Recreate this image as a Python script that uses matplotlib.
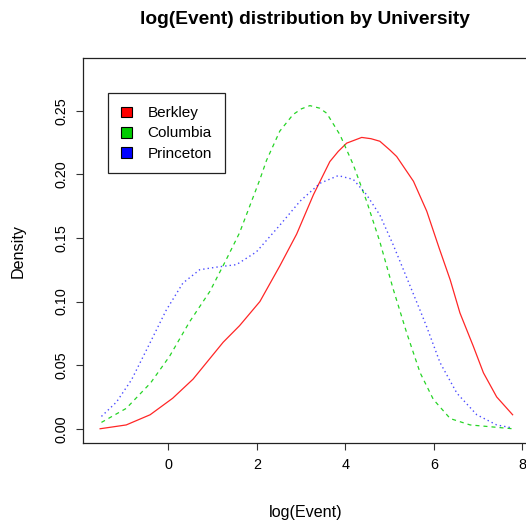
import matplotlib
matplotlib.use("Agg")
import matplotlib.pyplot as plt
from matplotlib.patches import Patch

plt.rcParams['font.family'] = ['Liberation Sans', 'DejaVu Sans']
plt.rcParams['lines.scale_dashes'] = False

# density curves (x = log(Event), y = density)
berkley_x = [-1.54, -0.95, -0.41, 0.10, 0.56, 1.24, 1.61, 2.07, 2.52, 2.90, 3.28, 3.65, 3.84,
             4.03, 4.37, 4.58, 4.78, 5.01, 5.16, 5.54, 5.84, 6.12, 6.37, 6.59, 6.89, 7.12, 7.42, 7.78]
berkley_y = [0.000, 0.003, 0.011, 0.024, 0.039, 0.068, 0.081, 0.100, 0.128, 0.153, 0.184, 0.210, 0.218,
             0.2245, 0.229, 0.228, 0.226, 0.219, 0.214, 0.1945, 0.171, 0.142, 0.117, 0.091, 0.065, 0.044, 0.025, 0.011]

columbia_x = [-1.51, -0.95, -0.40, 0.03, 0.48, 0.94, 1.31, 1.61, 1.84, 2.07, 2.22, 2.52, 2.82, 3.01,
              3.20, 3.42, 3.58, 3.88, 4.18, 4.48, 4.78, 5.08, 5.39, 5.69, 5.99, 6.37, 6.82, 7.78]
columbia_y = [0.005, 0.016, 0.036, 0.057, 0.084, 0.108, 0.133, 0.154, 0.175, 0.196, 0.211, 0.234, 0.247, 0.2515,
              0.254, 0.252, 0.248, 0.231, 0.2075, 0.179, 0.147, 0.110, 0.075, 0.044, 0.023, 0.008, 0.003, 0.000]

princeton_x = [-1.51, -1.17, -0.83, -0.42, -0.05, 0.33, 0.71, 1.08, 1.54, 1.99, 2.52, 2.98, 3.43,
               3.84, 4.18, 4.48, 4.78, 5.08, 5.39, 5.69, 5.84, 6.14, 6.52, 6.97, 7.42, 7.78]
princeton_y = [0.0097, 0.021, 0.0385, 0.067, 0.093, 0.1145, 0.125, 0.127, 0.129, 0.139, 0.160, 0.179, 0.193,
               0.199, 0.196, 0.184, 0.168, 0.1447, 0.1185, 0.093, 0.080, 0.052, 0.028, 0.011, 0.003, 0.0006]

labels = ['Berkley', 'Columbia', 'Princeton']
colors = ['#FF0000', '#00CD00', '#0000FF']
xticks = [0, 2, 4, 6, 8]
yticks = [0.00, 0.05, 0.10, 0.15, 0.20, 0.25]

fig = plt.figure(figsize=(5.26, 5.22), dpi=100)
ax = fig.add_axes([83.3 / 526, (522 - 443) / 522, (529 - 83.3) / 526, (443 - 58.3) / 522])

ax.plot(berkley_x, berkley_y, color=colors[0], lw=0.9, alpha=0.85)
ax.plot(columbia_x, columbia_y, color=colors[1], lw=0.9, alpha=0.85, dashes=(2.9, 2.9))
ax.plot(princeton_x, princeton_y, color=colors[2], lw=1.0, alpha=0.7, dashes=(1.0, 2.2))

ax.set_xlim(-1.92, 8.15)
ax.set_ylim(-0.0112, 0.2912)
ax.set_xticks(xticks)
ax.set_yticks(yticks)
ax.set_xticklabels([str(t) for t in xticks])
ax.set_yticklabels(['%.2f' % t for t in yticks])
ax.tick_params(length=5, width=0.8, labelsize=10.4, color='#333333')
ax.tick_params(axis='x', pad=6.0)
ax.tick_params(axis='y', pad=5.5, labelrotation=90)
for lab in ax.get_yticklabels():
    lab.set_va('center')
for s in ax.spines.values():
    s.set_linewidth(0.9)
    s.set_color('#222222')

ax.set_xlabel('log(Event)', fontsize=11.6)
ax.set_ylabel('Density', fontsize=11.6)
ax.xaxis.set_label_coords(0.4997, (443 - 512) / 384.7)
ax.xaxis.label.set_va('center')
ax.yaxis.set_label_coords((18.3 - 83.3) / 445.7, 0.5)
ax.yaxis.label.set_va('center')

fig.text(305 / 526, 1 - 20 / 522, 'log(Event) distribution by University',
         ha='center', va='center', fontsize=13.8, fontweight='bold')

handles = [Patch(facecolor=c, edgecolor='black', linewidth=0.8) for c in colors]
leg = ax.legend(handles, labels, loc='upper left',
                bbox_to_anchor=((108.3 - 83.3) / 445.7, (443 - 93.3) / 384.7),
                borderaxespad=0, fontsize=11, handlelength=0.72, handleheight=0.72,
                handletextpad=0.98, borderpad=0.85, labelspacing=0.40,
                fancybox=False, framealpha=1)
leg.get_frame().set_edgecolor('#222222')
leg.get_frame().set_linewidth(0.9)

fig.savefig('out.png', dpi=100)
